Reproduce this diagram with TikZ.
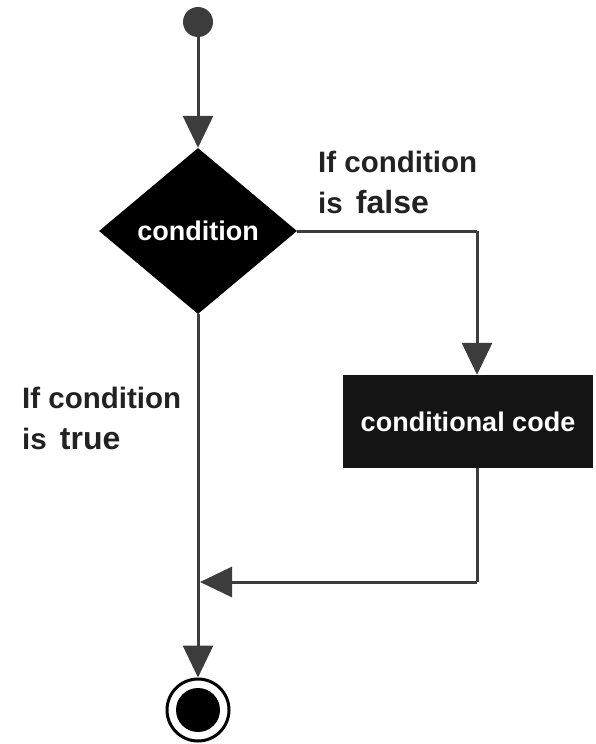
\documentclass[tikz,border=0pt]{standalone}
\usepackage{fontspec}
\setmainfont{Liberation Sans}
\usetikzlibrary{shapes.geometric,arrows.meta}
\definecolor{linegray}{HTML}{3C3C3C}
\definecolor{txt}{HTML}{222222}
\tikzset{
  flow/.style={draw=linegray, line width=3pt, -{Triangle[length=32pt,width=30pt]}},
  plain/.style={draw=linegray, line width=3pt},
  lbl/.style={text=txt, font=\bfseries\fontsize{29.5}{41}\selectfont, align=left, anchor=north west, inner sep=0pt},
  whitetxt/.style={text=white, font=\bfseries\fontsize{27}{30}\selectfont},
}
\begin{document}
\begin{tikzpicture}[x=1pt,y=-1pt]
\useasboundingbox (0,0) rectangle (595,744);
\node[circle, fill=linegray, minimum size=30pt, inner sep=0pt] (start) at (198,22) {};
\node[diamond, fill=black, minimum width=198pt, minimum height=166pt, inner sep=0pt, whitetxt] (cond) at (198,231) {condition};
\node[rectangle, fill=black!92, minimum width=250pt, minimum height=93pt, inner sep=0pt, whitetxt] (code) at (468,421.5) {conditional code};
\node[circle, draw=black, line width=3pt, minimum size=62pt, inner sep=0pt] (stop) at (198,710) {};
\node[circle, fill=black, minimum size=44pt, inner sep=0pt] (stopin) at (198,710) {};
\coordinate (join) at (200,582);
\coordinate (fbtop) at (477,231);
\coordinate (fbbot) at (477,582);

\draw[flow] (start) -- (cond.north);
\draw[plain] (cond.east) -- (fbtop);
\draw[flow] (fbtop) -- (fbtop |- code.north);
\draw[plain] (fbtop |- code.south) -- (fbbot);
\draw[flow] (fbbot) -- (join);
\draw[flow] (cond.south) -- (stop.north);

\node[lbl] (lblfalse) at (318,151) {If condition\\is \,{\fontsize{32}{41}\selectfont false}};
\node[lbl] (lbltrue) at (22,387) {If condition\\is \,{\fontsize{32}{41}\selectfont true}};
\end{tikzpicture}
\end{document}
